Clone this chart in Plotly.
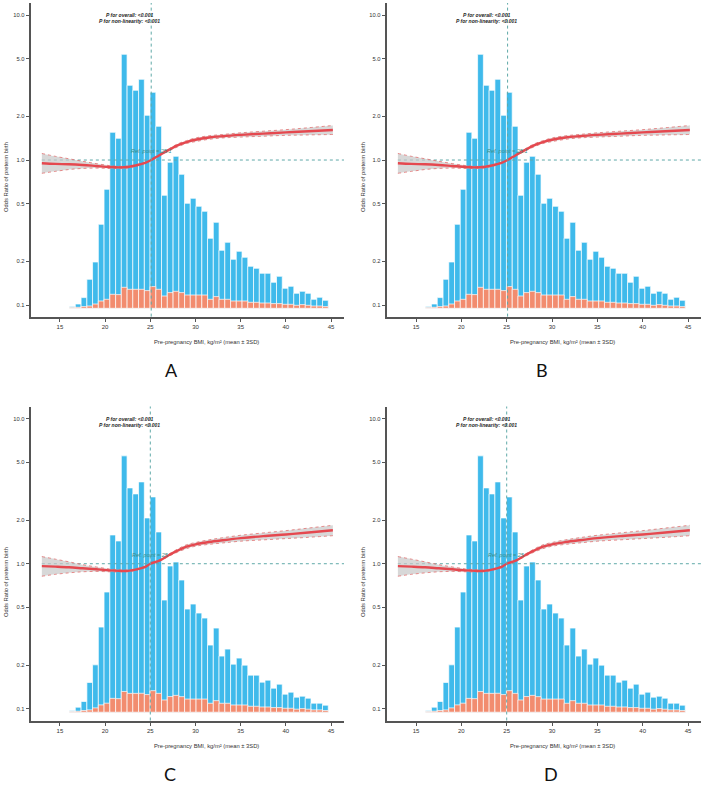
import math
import plotly.graph_objects as go

# ---------------- data ----------------
bin_centers = [16.39, 17.02, 17.66, 18.30, 18.93, 19.57, 20.20, 20.84, 21.48, 22.11,
               22.75, 23.38, 24.02, 24.66, 25.29, 25.93, 26.56, 27.20, 27.84, 28.47,
               29.11, 29.74, 30.38, 31.02, 31.65, 32.29, 32.92, 33.56, 34.20, 34.83,
               35.47, 36.10, 36.74, 37.38, 38.01, 38.65, 39.28, 39.92, 40.56, 41.19,
               41.83, 42.46, 43.10, 43.74, 44.37]
bin_width = 0.636

total_ab = [34, 86, 214, 580, 926, 1680, 2380, 3520, 3400, 5080,
            4460, 4360, 4580, 3860, 4320, 3640, 2260, 2920, 3040, 2680,
            2100, 2200, 2040, 1940, 1400, 1720, 1160, 1320, 980, 1140,
            1020, 840, 800, 700, 700, 520, 640, 400, 440, 300,
            340, 300, 180, 220, 160]
preterm_ab = [14, 20, 34, 46, 86, 146, 180, 280, 274, 420,
              380, 380, 380, 354, 434, 380, 246, 314, 340, 314,
              266, 266, 266, 266, 180, 234, 180, 180, 146, 146,
              146, 120, 120, 106, 106, 94, 94, 80, 80, 60,
              74, 60, 46, 46, 34]
total_cd = [34, 100, 214, 594, 946, 1700, 2400, 3540, 3420, 5120,
            4480, 4360, 4600, 3880, 4300, 3600, 2240, 2920, 3000, 2640,
            2060, 2160, 1980, 1880, 1340, 1680, 1120, 1260, 960, 1080,
            940, 740, 740, 600, 640, 480, 560, 360, 400, 300,
            320, 280, 180, 180, 140]
preterm_cd = [14, 20, 34, 46, 86, 146, 180, 276, 270, 414,
              376, 376, 378, 352, 430, 376, 244, 312, 336, 310,
              262, 262, 262, 262, 178, 230, 178, 178, 144, 144,
              144, 118, 118, 104, 104, 92, 92, 78, 78, 60,
              72, 60, 46, 46, 34]

curve_bmi_ab = [13.0, 14.5, 16, 17.5, 19, 20.5, 21.5, 22.5, 23.5, 24.5, 25.1, 26, 27,
                28, 29, 30, 31.5, 33, 35, 37.5, 40, 42.5, 45.2]
or_ab = [0.95, 0.94, 0.935, 0.925, 0.91, 0.895, 0.89, 0.895, 0.92, 0.96, 1.00, 1.08, 1.17,
         1.26, 1.33, 1.38, 1.43, 1.46, 1.49, 1.52, 1.55, 1.58, 1.61]
lo_ab = [0.81, 0.835, 0.86, 0.875, 0.88, 0.875, 0.875, 0.882, 0.91, 0.955, 1.0, 1.07, 1.15,
         1.23, 1.30, 1.34, 1.39, 1.42, 1.44, 1.46, 1.48, 1.49, 1.50]
hi_ab = [1.11, 1.06, 1.02, 0.98, 0.945, 0.915, 0.905, 0.908, 0.93, 0.965, 1.0, 1.09, 1.19,
         1.29, 1.36, 1.42, 1.47, 1.50, 1.54, 1.58, 1.62, 1.67, 1.73]

curve_bmi_cd = [13.0, 14.5, 16, 17.5, 19, 20.5, 21.5, 22.5, 23.5, 24.5, 25.0, 26, 27,
                28, 29, 30, 31.5, 33, 35, 37.5, 40, 42.5, 45.2]
or_cd = [0.963, 0.955, 0.945, 0.93, 0.915, 0.90, 0.893, 0.893, 0.915, 0.955, 1.0, 1.05, 1.14,
         1.23, 1.31, 1.36, 1.41, 1.45, 1.50, 1.55, 1.59, 1.64, 1.70]
lo_cd = [0.82, 0.845, 0.865, 0.88, 0.885, 0.88, 0.877, 0.88, 0.905, 0.95, 1.0, 1.04, 1.12,
         1.20, 1.27, 1.32, 1.36, 1.39, 1.43, 1.46, 1.49, 1.52, 1.56]
hi_cd = [1.12, 1.075, 1.03, 0.985, 0.95, 0.92, 0.91, 0.906, 0.925, 0.96, 1.0, 1.06, 1.16,
         1.26, 1.35, 1.40, 1.46, 1.51, 1.57, 1.63, 1.69, 1.76, 1.84]

ref_ab = 25.1
ref_cd = 25.0
ref_label_ab = "Ref. point = 25.1"
ref_label_cd = "Ref. point = 25"
p_overall = "<0.001"
p_nonlin = "<0.001"

x_tick_vals = [15, 20, 25, 30, 35, 40, 45]
y_tick_vals = [0.1, 0.2, 0.5, 1, 2, 5, 10]
y_tick_text = ["0.1", "0.2", "0.5", "1.0", "2.0", "5.0", "10.0"]
panel_letters = ["A", "B", "C", "D"]
x_title = "Pre-pregnancy BMI, kg/m² (mean ± 3SD)"
y_title = "Odds Ratio of preterm birth"

# ---------------- style ----------------
W, H = 708, 786
BLUE = "#3FBAEB"
ORANGE = "#F28C6F"
RED = "#E5484F"
CI_EDGE = "#E27070"
TEAL = "#5FA9A8"
REF_TXT = "#3C8E88"
AX = "#555555"
TXT = "#333333"
FONT = "Liberation Sans"

def px_x(p):
    return p / W

def px_y(p):
    return 1 - p / H

panels = [
    dict(xd=[31, 344], yd=[3, 316.6], tot=total_ab, pre=preterm_ab, cx=curve_bmi_ab, orv=or_ab,
         lo=lo_ab, hi=hi_ab, ref=ref_ab, reftxt=ref_label_ab, ytt=(6, 177), xtt=(206, 342), lab=(171, 370)),
    dict(xd=[387, 701], yd=[3, 316.6], tot=total_ab, pre=preterm_ab, cx=curve_bmi_ab, orv=or_ab,
         lo=lo_ab, hi=hi_ab, ref=ref_ab, reftxt=ref_label_ab, ytt=(363, 177), xtt=(562, 342), lab=(542, 370)),
    dict(xd=[31, 344], yd=[406.5, 720.5], tot=total_cd, pre=preterm_cd, cx=curve_bmi_cd, orv=or_cd,
         lo=lo_cd, hi=hi_cd, ref=ref_cd, reftxt=ref_label_cd, ytt=(6, 582), xtt=(206, 746), lab=(170, 774)),
    dict(xd=[387, 701], yd=[406.5, 720.5], tot=total_cd, pre=preterm_cd, cx=curve_bmi_cd, orv=or_cd,
         lo=lo_cd, hi=hi_cd, ref=ref_cd, reftxt=ref_label_cd, ytt=(363, 582), xtt=(562, 746), lab=(551, 774)),
]

X_RANGE = [11.8, 46.43]
Y_LOG_RANGE = [-1.08, 1.083]
HIST_RANGE = [-166, 6106]

fig = go.Figure()
layout = dict(width=W, height=H, margin=dict(l=0, r=0, t=0, b=0),
              paper_bgcolor="white", plot_bgcolor="white", showlegend=False,
              barmode="overlay", font=dict(family=FONT, color=TXT))
annotations = []
shapes = []

for i, p in enumerate(panels, start=1):
    xa = "x" if i == 1 else f"x{i}"
    yb = "y" if i == 1 else f"y{i}"
    yo = f"y{i + 4}"
    xkey = "xaxis" if i == 1 else f"xaxis{i}"
    ybkey = "yaxis" if i == 1 else f"yaxis{i}"
    yokey = f"yaxis{i + 4}"

    layout[xkey] = dict(domain=[px_x(p["xd"][0]), px_x(p["xd"][1])], range=X_RANGE, anchor=yb,
                        showline=True, linecolor=AX, linewidth=1.5, ticks="outside", ticklen=3.5,
                        tickwidth=1, tickcolor=AX, tickvals=x_tick_vals, showgrid=False, zeroline=False,
                        tickfont=dict(size=6, color=TXT, family=FONT), automargin=False)
    layout[ybkey] = dict(domain=[px_y(p["yd"][1]), px_y(p["yd"][0])], range=HIST_RANGE, anchor=xa,
                         visible=False, showgrid=False, zeroline=False)
    layout[yokey] = dict(overlaying=yb, anchor=xa, type="log", range=Y_LOG_RANGE, side="left",
                         showline=True, linecolor=AX, linewidth=1.5, ticks="outside", ticklen=3.5,
                         tickwidth=1, tickcolor=AX, tickvals=y_tick_vals, ticktext=y_tick_text,
                         showgrid=False, zeroline=False, tickfont=dict(size=5.8, color=TXT, family=FONT),
                         automargin=False)

    fig.add_trace(go.Bar(x=bin_centers, y=p["tot"], width=bin_width, xaxis=xa, yaxis=yb,
                         marker=dict(color=BLUE, line=dict(color="white", width=0.7)), hoverinfo="skip"))
    fig.add_trace(go.Bar(x=bin_centers, y=p["pre"], width=bin_width, xaxis=xa, yaxis=yb,
                         marker=dict(color=ORANGE, line=dict(color="white", width=0.7)), hoverinfo="skip"))

    fig.add_trace(go.Scatter(x=[p["cx"][0], X_RANGE[1]], y=[1, 1], mode="lines", xaxis=xa, yaxis=yo,
                             line=dict(color=TEAL, width=1, dash="dot"), hoverinfo="skip"))
    fig.add_trace(go.Scatter(x=p["cx"], y=p["lo"], mode="lines", xaxis=xa, yaxis=yo,
                             line=dict(color=CI_EDGE, width=0.8, dash="dot", shape="spline", smoothing=1),
                             hoverinfo="skip"))
    fig.add_trace(go.Scatter(x=p["cx"], y=p["hi"], mode="lines", xaxis=xa, yaxis=yo, fill="tonexty",
                             fillcolor="rgba(200,200,200,0.7)",
                             line=dict(color=CI_EDGE, width=0.8, dash="dot", shape="spline", smoothing=1),
                             hoverinfo="skip"))
    fig.add_trace(go.Scatter(x=p["cx"], y=p["orv"], mode="lines", xaxis=xa, yaxis=yo,
                             line=dict(color=RED, width=2.4, shape="spline", smoothing=1), hoverinfo="skip"))

    shapes.append(dict(type="line", xref=xa, yref=f"{yb} domain", x0=p["ref"], x1=p["ref"], y0=0, y1=1,
                       line=dict(color=TEAL, width=1, dash="dot"), layer="above"))

    annotations.append(dict(x=p["ref"], y=math.log10(1.15), xref=xa, yref=yo, text=f"<i>{p['reftxt']}</i>",
                            showarrow=False, font=dict(size=5.5, color=REF_TXT, family=FONT),
                            xanchor="center", yanchor="middle"))
    annotations.append(dict(x=22.75, y=1.0, xref=xa, yref=yo,
                            text=f"<b><i>P for overall: {p_overall.replace('<', '&lt;')}</i></b>",
                            showarrow=False, font=dict(size=5, color="#222222", family=FONT),
                            xanchor="center", yanchor="middle"))
    annotations.append(dict(x=22.75, y=0.958, xref=xa, yref=yo,
                            text=f"<b><i>P for non-linearity: {p_nonlin.replace('<', '&lt;')}</i></b>",
                            showarrow=False, font=dict(size=5, color="#222222", family=FONT),
                            xanchor="center", yanchor="middle"))
    annotations.append(dict(x=px_x(p["ytt"][0]), y=px_y(p["ytt"][1]), xref="paper", yref="paper",
                            text=y_title, textangle=-90, showarrow=False,
                            font=dict(size=5.8, color=TXT, family=FONT), xanchor="center", yanchor="middle"))
    annotations.append(dict(x=px_x(p["xtt"][0]), y=px_y(p["xtt"][1]), xref="paper", yref="paper",
                            text=x_title, showarrow=False,
                            font=dict(size=5.8, color=TXT, family=FONT), xanchor="center", yanchor="middle"))
    annotations.append(dict(x=px_x(p["lab"][0]), y=px_y(p["lab"][1]), xref="paper", yref="paper",
                            text=panel_letters[i - 1], showarrow=False,
                            font=dict(size=18, color="#111111", family="Lato"), xanchor="center",
                            yanchor="middle"))

layout["annotations"] = annotations
layout["shapes"] = shapes
fig.update_layout(**layout)
fig.write_html("out.html")
